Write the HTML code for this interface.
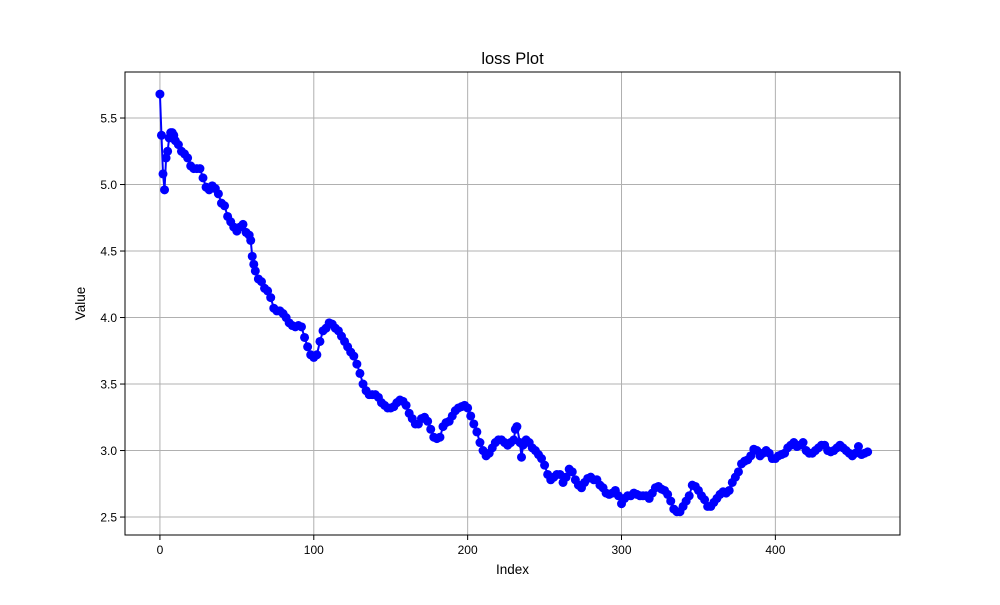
<!DOCTYPE html>
<html><head><meta charset="utf-8"><style>
body{margin:0;background:#fff;}
svg text{font-family:"Liberation Sans","DejaVu Sans",sans-serif;}
</style></head><body>
<svg id="chart" width="1000" height="600" viewBox="0 0 1000 600">
<rect width="1000" height="600" fill="#fff"/>
<g id="grid"></g>
<g id="series"></g>
<rect x="125" y="72" width="775" height="463" fill="none" stroke="#000" stroke-width="1"/>
<g id="axes"></g>
<text x="512.5" y="64" text-anchor="middle" font-size="16.5">loss Plot</text>
<text x="512.5" y="574" text-anchor="middle" font-size="13.5">Index</text>
<text x="85" y="303.5" text-anchor="middle" font-size="13.5" transform="rotate(-90 85 303.5)">Value</text>
</svg>
<script>
const xIndex=[0,1,2,3,4,5,6,7,8,9,10,12,14,16,18,20,22,24,26,28,30,32,34,36,38,40,42,44,46,48,50,52,54,56,58,59,60,61,62,64,66,68,70,72,74,76,78,80,82,84,86,88,90,92,94,96,98,100,102,104,106,108,110,112,114,116,118,120,122,124,126,128,130,132,134,136,138,140,142,144,146,148,150,152,154,156,158,160,162,164,166,168,170,172,174,176,178,180,182,184,186,188,190,192,194,196,198,200,202,204,206,208,210,212,214,216,218,220,222,224,226,228,230,231,232,234,235,236,238,240,242,244,246,248,250,252,254,256,258,260,262,264,266,268,270,272,274,276,278,280,282,284,286,288,290,292,294,296,298,300,302,304,306,308,310,312,314,316,318,320,322,324,326,328,330,332,334,336,338,340,342,344,346,348,350,352,354,356,358,360,362,364,366,368,370,372,374,376,378,380,382,384,386,388,390,392,394,396,398,400,402,404,406,408,410,412,414,416,418,420,422,424,426,428,430,432,434,436,438,440,442,444,446,448,450,452,454,456,458,460];
const lossValues=[5.68,5.37,5.08,4.96,5.20,5.25,5.35,5.39,5.39,5.37,5.33,5.30,5.25,5.23,5.20,5.14,5.12,5.12,5.12,5.05,4.98,4.96,4.99,4.97,4.93,4.86,4.84,4.76,4.72,4.68,4.65,4.68,4.70,4.64,4.62,4.58,4.46,4.40,4.35,4.29,4.27,4.22,4.20,4.15,4.07,4.05,4.05,4.03,4.00,3.96,3.94,3.93,3.94,3.93,3.85,3.78,3.72,3.70,3.72,3.82,3.90,3.92,3.96,3.95,3.92,3.90,3.86,3.82,3.78,3.74,3.71,3.65,3.58,3.50,3.45,3.42,3.42,3.42,3.40,3.36,3.34,3.32,3.32,3.33,3.36,3.38,3.37,3.34,3.28,3.24,3.20,3.20,3.24,3.25,3.22,3.16,3.10,3.09,3.10,3.18,3.21,3.22,3.26,3.30,3.32,3.33,3.34,3.32,3.26,3.20,3.14,3.06,3.00,2.96,2.98,3.02,3.06,3.08,3.08,3.06,3.04,3.06,3.08,3.16,3.18,3.06,2.95,3.04,3.08,3.06,3.02,3.00,2.97,2.94,2.89,2.82,2.78,2.80,2.82,2.82,2.76,2.80,2.86,2.84,2.78,2.74,2.72,2.76,2.79,2.80,2.78,2.78,2.74,2.72,2.68,2.67,2.68,2.70,2.66,2.60,2.64,2.66,2.66,2.68,2.67,2.66,2.66,2.66,2.64,2.68,2.72,2.73,2.71,2.70,2.67,2.62,2.56,2.54,2.54,2.58,2.62,2.66,2.74,2.73,2.70,2.66,2.63,2.58,2.58,2.61,2.64,2.67,2.69,2.68,2.70,2.76,2.80,2.84,2.90,2.92,2.93,2.96,3.01,3.00,2.96,2.98,3.00,2.98,2.94,2.94,2.96,2.97,2.98,3.02,3.04,3.06,3.03,3.04,3.06,3.00,2.98,2.98,3.00,3.02,3.04,3.04,3.00,2.99,3.00,3.02,3.04,3.02,3.00,2.98,2.96,2.98,3.03,2.97,2.98,2.99];
const xTicks=[0,100,200,300,400];
const yTicks=[2.5,3.0,3.5,4.0,4.5,5.0,5.5];
const yTickLabels=["2.5","3.0","3.5","4.0","4.5","5.0","5.5"];

const L=125,R=900,T=72,B=535;
const xMin=-22.7,xMax=481,yMin=2.365,yMax=5.846;
function sx(v){return L+(v-xMin)/(xMax-xMin)*(R-L);}
function sy(v){return B-(v-yMin)/(yMax-yMin)*(B-T);}
const NS="http://www.w3.org/2000/svg";
function mk(tag,attrs,parent){const e=document.createElementNS(NS,tag);for(const k in attrs)e.setAttribute(k,attrs[k]);parent.appendChild(e);return e;}
const grid=document.getElementById('grid'),axes=document.getElementById('axes'),series=document.getElementById('series');
xTicks.forEach(t=>{
  const x=sx(t);
  const g=mk('line',{x1:x,x2:x,y1:T,y2:B,stroke:'#b0b0b0','stroke-width':1},grid);
  
  
  const tk=mk('line',{x1:x,x2:x,y1:B,y2:B+5,stroke:'#000','stroke-width':1},axes);
  
  
  const lb=mk('text',{x:x,y:B+19,'text-anchor':'middle','font-size':'12'},axes);
  lb.textContent=String(t);
  
  
});
yTicks.forEach((t,i)=>{
  const y=sy(t);
  const g=mk('line',{x1:L,x2:R,y1:y,y2:y,stroke:'#b0b0b0','stroke-width':1},grid);
  
  
  const tk=mk('line',{x1:L-5,x2:L,y1:y,y2:y,stroke:'#000','stroke-width':1},axes);
  
  
  const lb=mk('text',{x:L-8,y:y+4.5,'text-anchor':'end','font-size':'12'},axes);
  lb.textContent=yTickLabels[i];
  
  
});
const pts=xIndex.map((x,i)=>sx(x).toFixed(2)+','+sy(lossValues[i]).toFixed(2)).join(' ');
const pl=mk('polyline',{points:pts,fill:'none',stroke:'#0000ff','stroke-width':2,'stroke-linejoin':'round'},series);


xIndex.forEach((x,i)=>{
  const c=mk('circle',{cx:sx(x),cy:sy(lossValues[i]),r:4.5,fill:'#0000ff'},series);
  
  
});
</script>
</body></html>
